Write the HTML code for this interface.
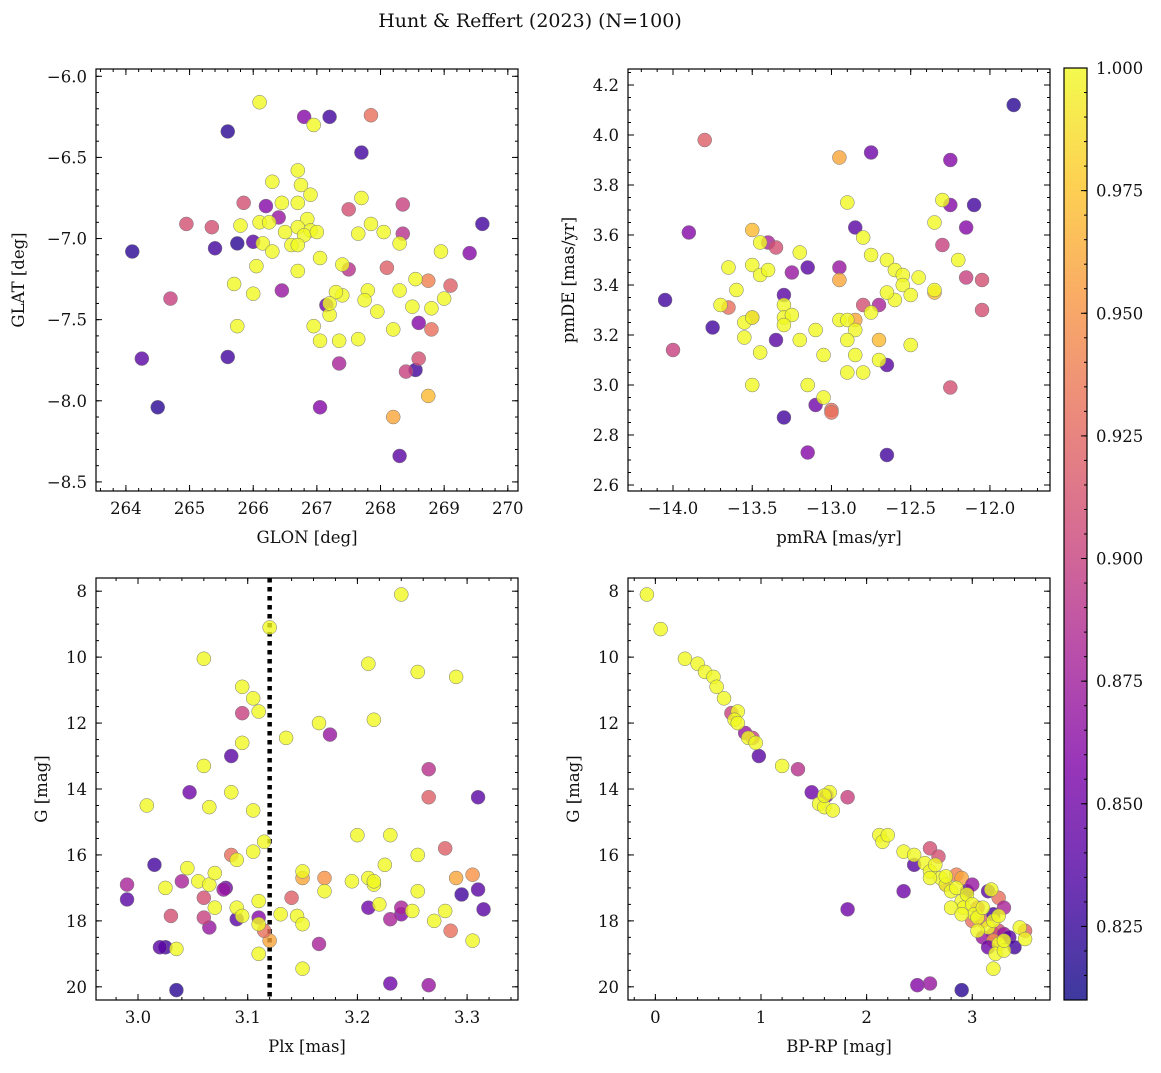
<!DOCTYPE html>
<html><head><meta charset="utf-8">
<style>
html,body{margin:0;padding:0;background:#fff;}
svg text{font-family:"DejaVu Serif","Liberation Serif",serif;fill:#111;}
</style></head>
<body>
<svg id="fig" width="1161" height="1068" viewBox="0 0 1161 1068" xmlns="http://www.w3.org/2000/svg">
<text x="530" y="27" font-size="19" text-anchor="middle">Hunt &amp; Reffert (2023) (N=100)</text>
<defs>
<linearGradient id="cbgrad" x1="0" y1="1" x2="0" y2="0">
<stop offset="0" stop-color="#0d0887"/><stop offset="0.125" stop-color="#4c02a1"/><stop offset="0.25" stop-color="#7e03a8"/><stop offset="0.375" stop-color="#a92395"/><stop offset="0.5" stop-color="#cc4778"/><stop offset="0.625" stop-color="#e66c5c"/><stop offset="0.75" stop-color="#f89540"/><stop offset="0.875" stop-color="#fdc527"/><stop offset="1" stop-color="#f0f921"/>
</linearGradient>
</defs>
</svg>
<script>
// Panel 1: GLON / GLAT
const p1_glon=[264.1,264.25,264.5,265.6,265.4,265.6,265.75,266.0,266.8,267.2,267.7,269.6,269.4,268.55,268.3,267.05,268.6,266.2,266.4,266.45,267.35,267.15,
264.7,264.95,265.35,265.85,267.5,267.5,268.1,268.35,268.35,268.4,268.6,268.8,268.75,269.1,267.85,268.2,268.75,
266.1,266.95,266.7,266.3,266.75,266.9,266.7,266.45,266.1,266.25,265.8,266.5,266.85,266.7,266.9,266.8,267.0,266.15,266.6,266.7,266.05,266.3,266.7,265.7,266.0,265.75,267.4,267.7,267.65,267.85,268.05,267.8,267.75,267.4,267.3,267.2,266.95,267.05,267.35,267.65,267.95,268.3,268.55,268.5,268.3,268.8,268.2,269.0,268.95,267.2,267.05];
const p1_glat=[-7.08,-7.74,-8.04,-6.34,-7.06,-7.73,-7.03,-7.02,-6.25,-6.25,-6.47,-6.91,-7.09,-7.81,-8.34,-8.04,-7.52,-6.80,-6.87,-7.32,-7.77,-7.41,
-7.37,-6.91,-6.93,-6.78,-6.82,-7.19,-7.18,-6.79,-6.97,-7.82,-7.74,-7.56,-7.26,-7.29,-6.24,-8.10,-7.97,
-6.16,-6.30,-6.58,-6.65,-6.67,-6.73,-6.78,-6.78,-6.9,-6.9,-6.92,-6.96,-6.88,-6.93,-6.95,-6.98,-6.96,-7.03,-7.04,-7.04,-7.17,-7.08,-7.2,-7.28,-7.34,-7.54,-7.16,-6.75,-6.97,-6.91,-6.96,-7.32,-7.38,-7.35,-7.33,-7.47,-7.54,-7.63,-7.63,-7.62,-7.45,-7.03,-7.25,-7.42,-7.32,-7.43,-7.56,-7.37,-7.08,-7.40,-7.12];
const p1_prob=[.82,.84,.82,.82,.83,.83,.82,.84,.86,.83,.83,.83,.86,.83,.84,.86,.86,.86,.87,.87,.88,.85,
.9,.91,.91,.91,.91,.89,.92,.9,.89,.9,.91,.93,.94,.92,.93,.96,.97];
// Panel 2: pmRA / pmDE
const p2_pmra=[-14.05,-13.9,-13.75,-13.3,-13.3,-13.35,-13.15,-13.15,-13.1,-12.85,-12.75,-12.65,-12.65,-12.25,-12.25,-12.1,-11.85,-12.15,-13.25,-12.95,-13.4,-12.7,
-14.0,-13.8,-12.3,-12.15,-12.05,-12.05,-12.25,-12.8,-13.0,-13.0,-13.35,-13.5,-13.65,-12.95,-12.35,-13.5,-12.95,-12.7,-12.85,
-13.7,-13.65,-13.6,-13.55,-13.55,-13.5,-13.5,-13.45,-13.4,-13.45,-13.45,-13.5,-13.3,-13.3,-13.25,-13.3,-13.2,-13.2,-13.15,-13.1,-13.05,-13.05,-12.9,-12.95,-12.9,-12.85,-12.85,-12.75,-12.8,-12.75,-12.8,-12.9,-12.7,-12.65,-12.6,-12.55,-12.55,-12.5,-12.5,-12.45,-12.35,-12.35,-12.3,-12.2,-12.6,-12.9,-12.65];
const p2_pmde=[3.34,3.61,3.23,2.87,3.36,3.18,3.47,2.73,2.92,3.63,3.93,3.08,2.72,3.90,3.72,3.72,4.12,3.63,3.45,3.47,3.57,3.32,
3.14,3.98,3.56,3.43,3.42,3.30,2.99,3.32,2.90,2.89,3.55,3.27,3.31,3.91,3.37,3.62,3.42,3.18,3.26,
3.32,3.47,3.38,3.25,3.19,3.27,3.48,3.44,3.46,3.57,3.13,3.0,3.32,3.27,3.28,3.24,3.53,3.18,3.00,3.22,2.95,3.12,3.73,3.26,3.26,3.12,3.22,3.52,3.59,3.29,3.05,3.05,3.10,3.50,3.46,3.44,3.40,3.36,3.16,3.43,3.65,3.38,3.74,3.50,3.34,3.18,3.37];
const p2_prob=[.83,.86,.83,.83,.84,.84,.84,.86,.85,.84,.85,.84,.83,.86,.86,.83,.82,.86,.87,.87,.88,.88,
.9,.92,.9,.9,.91,.91,.91,.91,.93,.93,.91,.92,.93,.96,.97,.97,.96,.97,.96];
// Panel 3: Plx / G
const p3_plx=[3.035,3.015,2.99,3.025,3.02,3.047,3.08,3.11,3.09,3.085,3.065,3.24,3.23,3.23,3.265,3.265,3.295,3.31,3.31,3.315,3.165,3.175,3.24,3.21,
2.99,3.04,3.03,3.06,3.06,3.095,3.078,3.085,3.14,3.265,3.28,3.285,3.305,3.29,3.17,3.12,3.15,3.115,
3.008,3.025,3.035,3.045,3.06,3.06,3.055,3.065,3.065,3.07,3.07,3.085,3.09,3.095,3.095,3.09,3.095,3.105,3.105,3.11,3.105,3.11,3.11,3.11,3.115,3.12,3.13,3.135,3.145,3.15,3.15,3.15,3.165,3.17,3.2,3.21,3.21,3.215,3.215,3.22,3.225,3.23,3.24,3.255,3.25,3.255,3.255,3.27,3.28,3.29,3.305,3.215,3.195];
const p3_g=[20.1,16.3,17.35,18.8,18.8,14.1,17.0,17.9,17.95,13.0,18.2,17.8,17.95,19.9,19.95,13.4,17.2,17.05,14.25,17.65,18.7,12.35,17.6,17.6,
16.9,16.8,17.85,17.3,17.9,11.7,17.05,16.0,17.3,14.25,15.8,18.3,16.6,16.7,16.7,18.6,16.7,18.3,
14.5,17.0,18.85,16.4,10.05,13.3,16.8,16.9,14.55,16.55,17.6,14.1,16.15,10.9,12.6,17.6,17.85,11.25,14.65,11.65,15.9,17.4,18.1,19.0,15.6,9.1,17.8,12.45,17.85,18.1,19.45,16.5,12.0,17.1,15.4,16.7,10.2,16.9,11.9,17.5,16.3,15.4,8.1,10.45,17.7,16.0,17.1,18.0,17.7,10.6,18.6,16.8,16.8];
const p3_prob=[.82,.83,.84,.83,.84,.85,.85,.86,.84,.84,.87,.86,.88,.85,.87,.89,.83,.84,.84,.84,.88,.87,.88,.85,
.88,.88,.91,.91,.9,.9,.87,.93,.92,.92,.92,.93,.95,.96,.95,.96,.96,.93];
const p3_cut=[3.12];
// Panel 4: BP-RP / G
const p4_bprp=[0.72,0.85,0.92,0.98,1.35,1.48,1.62,1.82,1.82,2.35,2.45,2.48,2.6,2.9,2.6,2.68,2.75,2.85,2.9,2.95,3.0,3.0,3.05,3.1,3.15,3.2,3.2,3.25,3.3,3.35,3.5,3.4,3.25,3.1,3.3,3.2,3.15,
-0.08,0.05,0.28,0.4,0.47,0.55,0.58,0.65,0.78,0.75,0.78,0.88,0.95,1.2,1.55,1.6,1.65,1.68,2.12,2.15,2.2,2.35,2.45,2.55,2.6,2.65,2.7,2.75,2.8,2.85,2.9,2.92,2.95,3.0,3.02,3.05,3.1,3.15,3.2,3.25,3.22,3.3,3.3,3.2,3.25,3.45,3.5,2.6,2.75,2.8,2.9,3.05,3.18,1.6];
const p4_g=[11.7,12.3,12.45,13.0,13.4,14.1,14.2,14.25,17.65,17.1,16.3,19.95,19.9,20.1,15.8,16.05,16.9,16.6,16.7,17.1,16.9,18.0,17.6,18.0,17.1,17.8,18.4,18.3,18.4,18.5,18.3,18.8,17.3,18.5,17.6,18.6,18.8,
8.1,9.15,10.05,10.2,10.45,10.6,10.9,11.25,11.65,11.9,12.0,12.45,12.6,13.3,14.45,14.55,14.1,14.65,15.4,15.6,15.4,15.9,16.0,16.25,16.5,16.3,16.7,16.9,17.1,17.0,17.4,17.6,17.2,17.5,17.8,17.9,17.6,18.2,18.0,18.7,19.0,18.9,18.6,19.45,17.85,18.2,18.55,16.7,16.65,17.6,17.8,18.3,17.05,14.2];
const p4_prob=[.9,.87,.9,.84,.89,.85,.86,.9,.85,.85,.84,.86,.87,.82,.91,.91,.9,.94,.96,.84,.87,.93,.9,.92,.84,.83,.89,.91,.87,.84,.92,.83,.93,.87,.88,.95,.85];
const cb_ticks=[0.825,0.85,0.875,0.9,0.925,0.95,0.975,1.0];
const PMIN=0.81, PMAX=1.0;

const svg=document.getElementById('fig');
const NS='http://www.w3.org/2000/svg';
function mk(tag,attrs,parent){const e=document.createElementNS(NS,tag);for(const k in attrs)e.setAttribute(k,attrs[k]);(parent||svg).appendChild(e);return e;}
const stops=[[0,[13,8,135]],[.125,[76,2,161]],[.25,[126,3,168]],[.375,[169,35,149]],[.5,[204,71,120]],[.625,[230,108,92]],[.75,[248,149,64]],[.875,[253,197,39]],[1,[240,249,33]]];
function plasma(p){let t=Math.max(0,Math.min(1,(p-PMIN)/(PMAX-PMIN)));for(let i=1;i<stops.length;i++){if(t<=stops[i][0]){const a=stops[i-1],b=stops[i];const f=(t-a[0])/(b[0]-a[0]);const c=a[1].map((v,j)=>Math.round(v+(b[1][j]-v)*f));return 'rgb('+c.join(',')+')';}}return 'rgb(240,249,33)';}
function fmt(v,d){return (v<0?'\u2212':'')+Math.abs(v).toFixed(d);}

function panel(o){
  const g=mk('g',{});
  
  
  const sx=v=>o.x0+(v-o.xmin)/(o.xmax-o.xmin)*(o.x1-o.x0);
  const sy=v=>o.yinv? o.y0+(v-o.ymin)/(o.ymax-o.ymin)*(o.y1-o.y0) : o.y1-(v-o.ymin)/(o.ymax-o.ymin)*(o.y1-o.y0);
  if(o.vline){const l=mk('line',{x1:sx(o.vline[0]),x2:sx(o.vline[0]),y1:o.y0,y2:o.y1,stroke:'#000','stroke-width':4.5,'stroke-dasharray':'4.5,4.5'},g);
    }
  for(let i=0;i<o.xs.length;i++){
    const p=i<o.probs.length?o.probs[i]:1.0;
    const c=mk('circle',{cx:sx(o.xs[i]),cy:sy(o.ys[i]),r:7,fill:plasma(p),'fill-opacity':0.8,stroke:'#777','stroke-width':0.5},g);
    
    
  }
  mk('rect',{x:o.x0,y:o.y0,width:o.x1-o.x0,height:o.y1-o.y0,fill:'none',stroke:'#000','stroke-width':1.2},g);
  const eps=1e-9;
  const st=(a,b,s)=>{const r=[];for(let v=Math.ceil((a-eps)/s)*s;v<=b+eps;v+=s)r.push(Math.round(v/s)*s);return r;};
  st(o.xmin,o.xmax,o.xminor).forEach(v=>{const x=sx(v);mk('line',{x1:x,x2:x,y1:o.y1,y2:o.y1-3,stroke:'#000'},g);mk('line',{x1:x,x2:x,y1:o.y0,y2:o.y0+3,stroke:'#000'},g);});
  st(o.ymin,o.ymax,o.yminor).forEach(v=>{const y=sy(v);mk('line',{x1:o.x0,x2:o.x0+3,y1:y,y2:y,stroke:'#000'},g);mk('line',{x1:o.x1,x2:o.x1-3,y1:y,y2:y,stroke:'#000'},g);});
  st(o.xmin,o.xmax,o.xmajor).forEach(v=>{const x=sx(v);mk('line',{x1:x,x2:x,y1:o.y1,y2:o.y1-6,stroke:'#000'},g);mk('line',{x1:x,x2:x,y1:o.y0,y2:o.y0+6,stroke:'#000'},g);
    const t=mk('text',{x:x,y:o.y1+23,'font-size':16.5,'text-anchor':'middle'},g);t.textContent=fmt(v,o.xd);});
  st(o.ymin,o.ymax,o.ymajor).forEach(v=>{const y=sy(v);mk('line',{x1:o.x0,x2:o.x0+6,y1:y,y2:y,stroke:'#000'},g);mk('line',{x1:o.x1,x2:o.x1-6,y1:y,y2:y,stroke:'#000'},g);
    const t=mk('text',{x:o.x0-9,y:y+6,'font-size':16.5,'text-anchor':'end'},g);t.textContent=fmt(v,o.yd);});
  const xt=mk('text',{x:(o.x0+o.x1)/2,y:o.y1+52,'font-size':16.5,'text-anchor':'middle'},g);xt.textContent=o.xlabel;
  
  const yx=o.ylx, yy=(o.y0+o.y1)/2;
  const yt=mk('text',{x:yx,y:yy,'font-size':16.5,'text-anchor':'middle',transform:'rotate(-90 '+yx+' '+yy+')'},g);yt.textContent=o.ylabel;
  
}
panel({name:'glon-glat-panel',x0:96,x1:518,y0:69,y1:491,xmin:263.53,xmax:270.16,ymin:-8.556,ymax:-5.955,xmajor:1,xminor:0.2,ymajor:0.5,yminor:0.1,xd:0,yd:1,
  xs:p1_glon,ys:p1_glat,probs:p1_prob,xlabel:'GLON [deg]',ylabel:'GLAT [deg]',ylx:24});
panel({name:'proper-motion-panel',x0:628,x1:1050,y0:69,y1:491,xmin:-14.284,xmax:-11.621,ymin:2.576,ymax:4.264,xmajor:0.5,xminor:0.1,ymajor:0.2,yminor:0.05,xd:1,yd:1,
  xs:p2_pmra,ys:p2_pmde,probs:p2_prob,xlabel:'pmRA [mas/yr]',ylabel:'pmDE [mas/yr]',ylx:574});
panel({name:'parallax-magnitude-panel',x0:96,x1:518,y0:578,y1:1000,xmin:2.9617,xmax:3.3464,ymin:7.6,ymax:20.4,yinv:true,xmajor:0.1,xminor:0.02,ymajor:2,yminor:0.5,xd:1,yd:0,
  xs:p3_plx,ys:p3_g,probs:p3_prob,vline:p3_cut,xlabel:'Plx [mas]',ylabel:'G [mag]',ylx:47});
panel({name:'color-magnitude-panel',x0:628,x1:1050,y0:578,y1:1000,xmin:-0.259,xmax:3.736,ymin:7.6,ymax:20.4,yinv:true,xmajor:1,xminor:0.2,ymajor:2,yminor:0.5,xd:0,yd:0,
  xs:p4_bprp,ys:p4_g,probs:p4_prob,xlabel:'BP-RP [mag]',ylabel:'G [mag]',ylx:579});
// colorbar
const cg=mk('g',{});


const cx0=1064,cx1=1087,cy0=68,cy1=1000;
mk('rect',{x:cx0,y:cy0,width:cx1-cx0,height:cy1-cy0,fill:'url(#cbgrad)','fill-opacity':0.8,stroke:'#000','stroke-width':1.2},cg);
const cy=v=>cy1-(v-PMIN)/(PMAX-PMIN)*(cy1-cy0);
for(let v=0.815;v<=1.0001;v+=0.005){const y=cy(v);mk('line',{x1:cx1,x2:cx1-3,y1:y,y2:y,stroke:'#000'},cg);}
cb_ticks.forEach(v=>{const y=cy(v);mk('line',{x1:cx1,x2:cx1-6,y1:y,y2:y,stroke:'#000'},cg);
  const t=mk('text',{x:cx1+9,y:y+6,'font-size':16.5},cg);t.textContent=v.toFixed(3);
  
  });
</script>
</body></html>
